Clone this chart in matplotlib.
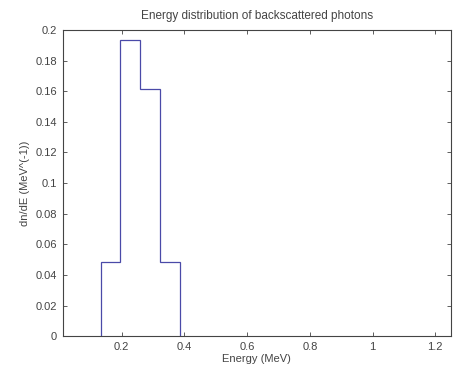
import numpy as np
import matplotlib
matplotlib.use('Agg')
import matplotlib.pyplot as plt

# Histogram of backscattered photon energies
bin_edges = [0.133, 0.196, 0.259, 0.322, 0.385]
dn_dE = [0.0484, 0.1935, 0.1613, 0.0484]

x_ticks = [0.2, 0.4, 0.6, 0.8, 1.0, 1.2]
x_tick_labels = ['0.2', '0.4', '0.6', '0.8', '1', '1.2']
y_ticks = [0, 0.02, 0.04, 0.06, 0.08, 0.1, 0.12, 0.14, 0.16, 0.18, 0.2]
y_tick_labels = ['0', '0.02', '0.04', '0.06', '0.08', '0.1',
                 '0.12', '0.14', '0.16', '0.18', '0.2']

plt.rcParams['font.family'] = ['Liberation Sans', 'DejaVu Sans']
plt.rcParams['font.size'] = 8

fig = plt.figure(figsize=(4.55, 3.71), dpi=100)
ax = fig.add_axes([0.138, 0.094, 0.853, 0.825])

# stairs outline, closed down to zero at both ends
ax.stairs(dn_dE, bin_edges, color='#4a4aa8', linewidth=0.9, baseline=0)

ax.set_xlim(0.012, 1.25)
ax.set_ylim(0, 0.2)
ax.set_xticks(x_ticks)
ax.set_xticklabels(x_tick_labels)
ax.set_yticks(y_ticks)
ax.set_yticklabels(y_tick_labels)
ax.tick_params(direction='in', top=True, right=True, length=3,
               width=0.6, colors='#444444', labelcolor='#444444', pad=4)
for sp in ax.spines.values():
    sp.set_linewidth(0.8)
    sp.set_color('#444444')

ax.set_title('Energy distribution of backscattered photons', fontsize=8.5,
             color='#444444', pad=8)
ax.set_xlabel('Energy (MeV)', color='#444444', labelpad=2)
ax.set_ylabel('dn/dE (MeV^(-1))', color='#444444', labelpad=4)

plt.savefig('out.png', dpi=100)
